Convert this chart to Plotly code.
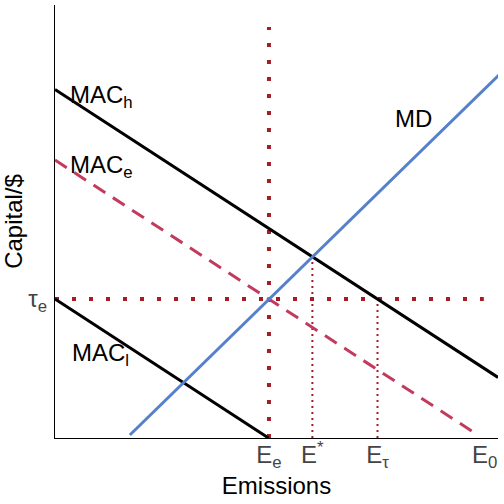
import plotly.graph_objects as go

# line endpoints (emissions, $)
mac_h_x = [0, 100]
mac_h_y = [80.5, 14.0]
mac_e_x = [0, 94.4]
mac_e_y = [64.2, 1.4]
mac_l_x = [0, 48.2]
mac_l_y = [32.1, 0]
md_x = [16.9, 100.2]
md_y = [0.7, 83.8]

# key levels
tau_e = 32.1
e_e = 48.3
e_star = 58.1
e_star_y = 41.9
e_tau = 72.8
e_0 = 97.0
e_e_top = 94.9
tau_line_end = 96.8

x_ticks = [e_e, e_star, e_tau, e_0]
x_ticktext = ["E<sub>e</sub>", "E<sup>*</sup>", "E<sub>τ</sub>", "E<sub>0</sub>"]
y_ticks = [tau_e]
y_ticktext = ["τ<sub>e</sub>"]

FONT = "Liberation Sans, Arial, sans-serif"
RED = "#a51c24"

fig = go.Figure()

# guide lines first so curves draw on top
fig.add_trace(go.Scatter(x=[e_e, e_e], y=[0, e_e_top], mode="lines",
                         line=dict(color=RED, width=4, dash="4px,13px")))
fig.add_trace(go.Scatter(x=[0, tau_line_end], y=[tau_e, tau_e], mode="lines",
                         line=dict(color=RED, width=4, dash="4px,13px")))
fig.add_trace(go.Scatter(x=[e_star, e_star], y=[0, e_star_y], mode="lines",
                         line=dict(color=RED, width=2, dash="2px,4px")))
fig.add_trace(go.Scatter(x=[e_tau, e_tau], y=[0, tau_e], mode="lines",
                         line=dict(color=RED, width=2, dash="2px,4px")))

fig.add_trace(go.Scatter(x=mac_h_x, y=mac_h_y, mode="lines",
                         line=dict(color="black", width=3)))
fig.add_trace(go.Scatter(x=mac_e_x, y=mac_e_y, mode="lines",
                         line=dict(color="#c23b5e", width=3, dash="14px,9px")))
fig.add_trace(go.Scatter(x=mac_l_x, y=mac_l_y, mode="lines",
                         line=dict(color="black", width=3)))
fig.add_trace(go.Scatter(x=md_x, y=md_y, mode="lines",
                         line=dict(color="#5580cc", width=3)))

labels = [
    (2.9, 78.8, "MAC<sub>h</sub>"),
    (2.9, 62.6, "MAC<sub>e</sub>"),
    (3.4, 19.2, "MAC<sub>l</sub>"),
    (76.3, 73.9, "MD"),
]
for lx, ly, txt in labels:
    fig.add_annotation(x=lx, y=ly, text=txt, showarrow=False, xanchor="left",
                       yanchor="middle", font=dict(size=24, color="black", family=FONT))

fig.update_layout(
    width=504, height=504,
    margin=dict(l=55, r=6, t=5, b=66),
    plot_bgcolor="white", paper_bgcolor="white",
    showlegend=False,
    font=dict(family=FONT, size=24, color="#444"),
)
fig.update_xaxes(range=[0, 100], showgrid=False, zeroline=False,
                 showline=True, linecolor="black", linewidth=1,
                 tickvals=x_ticks, ticktext=x_ticktext, ticks="",
                 ticklabelstandoff=-5,
                 title=dict(text="Emissions", font=dict(size=24, color="black"), standoff=0))
fig.update_yaxes(range=[0, 100], showgrid=False, zeroline=False,
                 showline=True, linecolor="black", linewidth=1,
                 tickvals=y_ticks, ticktext=y_ticktext, ticks="outside",
                 ticklen=2, tickcolor="white",
                 title=dict(text="Capital/$", font=dict(size=24, color="black"), standoff=4))

fig.write_html("out.html", config={"displayModeBar": False},
               post_script="document.body.style.margin='0';")
